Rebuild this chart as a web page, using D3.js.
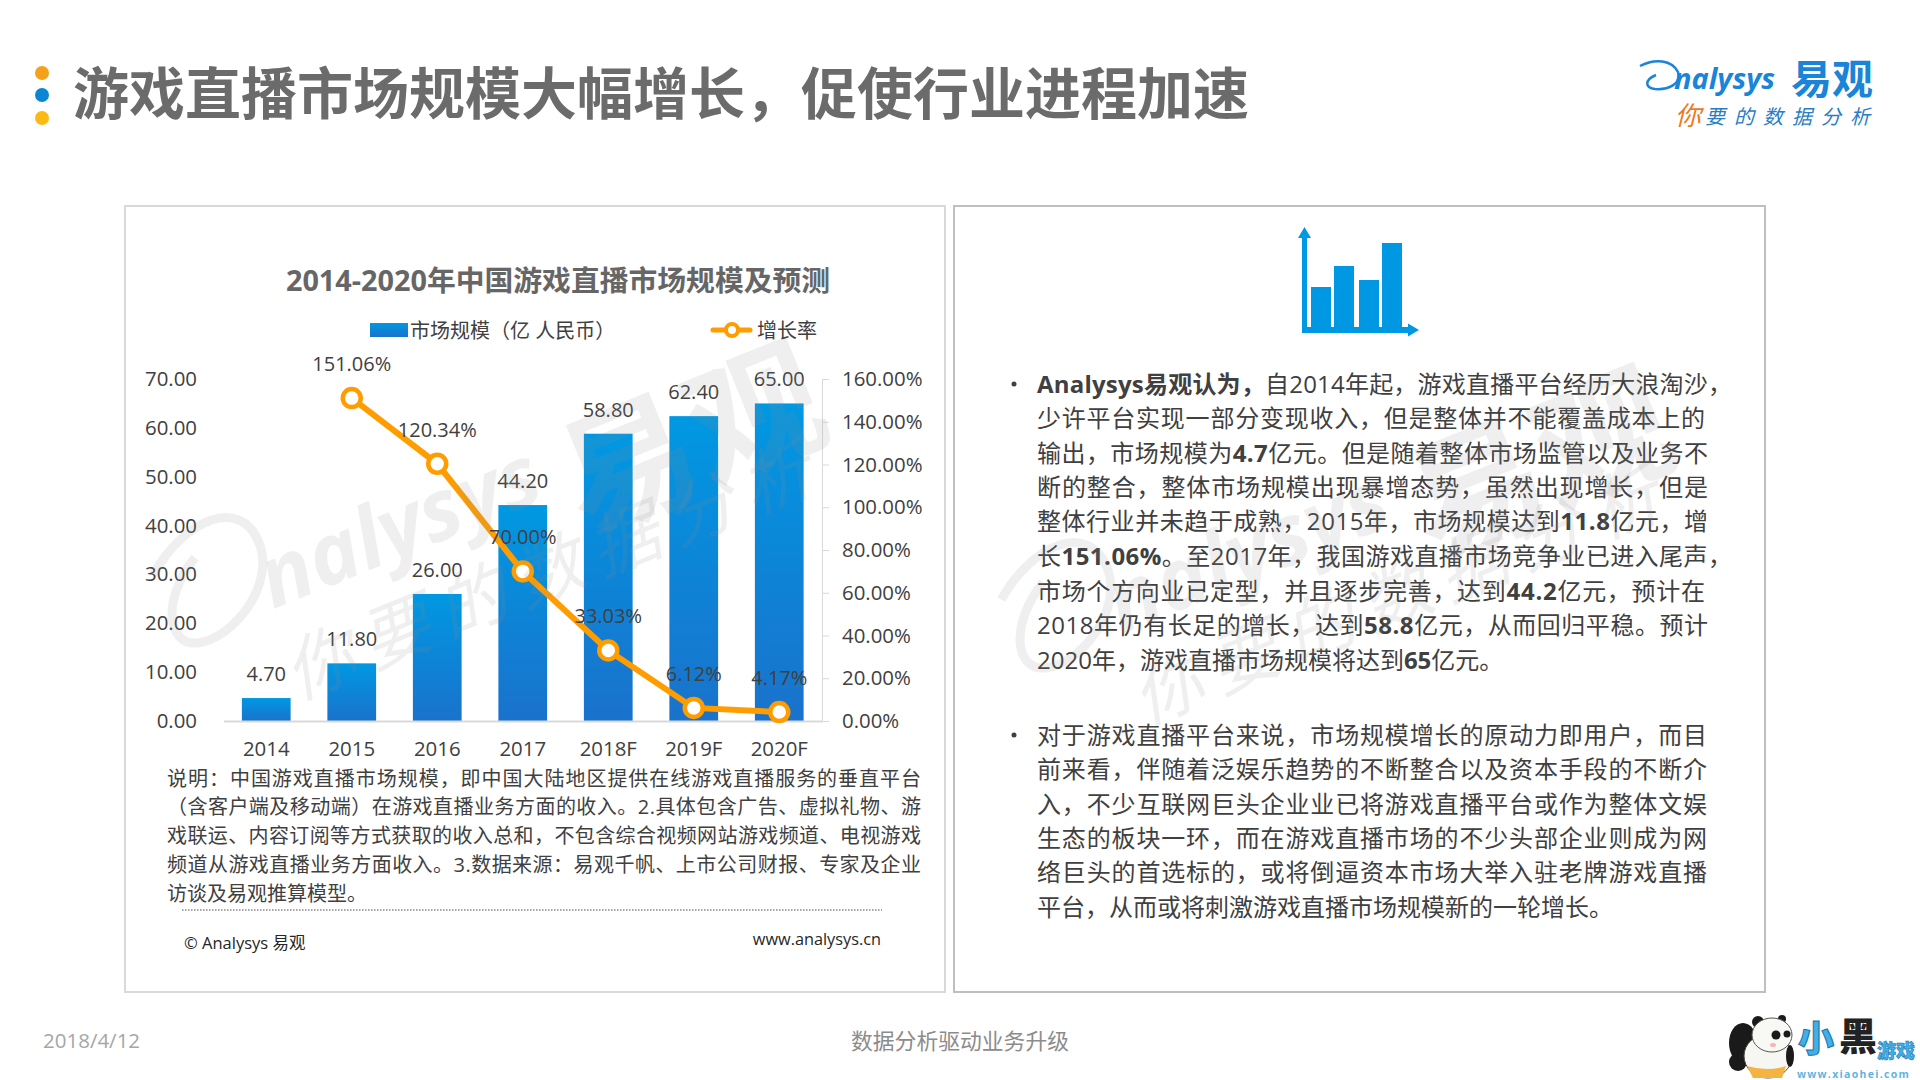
<!DOCTYPE html>
<html>
<head>
<meta charset="utf-8">
<script src="https://cdn.jsdelivr.net/npm/d3@7"></script>
<style>
html, body { margin: 0; padding: 0; background: #fff; }
svg { display: block; }
text { font-family: "Open Sans", "Noto Sans CJK SC", sans-serif; }
</style>
</head>
<body>
<div id="slide"></div>
<script>
var years = ["2014", "2015", "2016", "2017", "2018F", "2019F", "2020F"];
var marketSize = [4.70, 11.80, 26.00, 44.20, 58.80, 62.40, 65.00];
var growthRate = [null, 151.06, 120.34, 70.00, 33.03, 6.12, 4.17];
var leftTicks = [0, 10, 20, 30, 40, 50, 60, 70];
var rightTicks = [0, 20, 40, 60, 80, 100, 120, 140, 160];

var noteLines = [
    "说明：中国游戏直播市场规模，即中国大陆地区提供在线游戏直播服务的垂直平台",
    "（含客户端及移动端）在游戏直播业务方面的收入。2.具体包含广告、虚拟礼物、游",
    "戏联运、内容订阅等方式获取的收入总和，不包含综合视频网站游戏频道、电视游戏",
    "频道从游戏直播业务方面收入。3.数据来源：易观千帆、上市公司财报、专家及企业",
    "访谈及易观推算模型。"
];
// *...* marks the bold runs
var para1 = [
    "*Analysys易观认为，*自2014年起，游戏直播平台经历大浪淘沙，",
    "少许平台实现一部分变现收入，但是整体并不能覆盖成本上的",
    "输出，市场规模为*4.7*亿元。但是随着整体市场监管以及业务不",
    "断的整合，整体市场规模出现暴增态势，虽然出现增长，但是",
    "整体行业并未趋于成熟，2015年，市场规模达到*11.8*亿元，增",
    "长*151.06%*。至2017年，我国游戏直播市场竞争业已进入尾声，",
    "市场个方向业已定型，并且逐步完善，达到*44.2*亿元，预计在",
    "2018年仍有长足的增长，达到*58.8*亿元，从而回归平稳。预计",
    "2020年，游戏直播市场规模将达到*65*亿元。"
];
var para2 = [
    "对于游戏直播平台来说，市场规模增长的原动力即用户，而目",
    "前来看，伴随着泛娱乐趋势的不断整合以及资本手段的不断介",
    "入，不少互联网巨头企业业已将游戏直播平台或作为整体文娱",
    "生态的板块一环，而在游戏直播市场的不少头部企业则成为网",
    "络巨头的首选标的，或将倒逼资本市场大举入驻老牌游戏直播",
    "平台，从而或将刺激游戏直播市场规模新的一轮增长。"
];

var svg = d3.select("#slide").append("svg")
    .attr("width", 1920)
    .attr("height", 1080);

var defs = svg.append("defs");
var grad = defs.append("linearGradient")
    .attr("id", "barFill")
    .attr("x1", 0).attr("y1", 0).attr("x2", 0).attr("y2", 1);
grad.append("stop").attr("offset", "0%").attr("stop-color", "#0098e2");
grad.append("stop").attr("offset", "100%").attr("stop-color", "#1a72cc");

/* title and the three dots */
svg.selectAll("circle.dot")
    .data([[73, "#f5a21b"], [95, "#0b86d2"], [118, "#fdb913"]])
    .enter().append("circle")
    .attr("cx", 42)
    .attr("cy", function (d) { return d[0]; })
    .attr("r", 7)
    .attr("fill", function (d) { return d[1]; });

svg.append("text")
    .attr("x", 73).attr("y", 114)
    .attr("font-size", 56)
    .attr("font-weight", 700)
    .attr("fill", "#6b6b6b")
    .text("游戏直播市场规模大幅增长，促使行业进程加速");

/* panels */
svg.append("rect").attr("x", 125).attr("y", 206).attr("width", 820).attr("height", 786)
    .attr("fill", "#fff").attr("stroke", "#d9d9d9").attr("stroke-width", 2);
svg.append("rect").attr("x", 954).attr("y", 206).attr("width", 811).attr("height", 786)
    .attr("fill", "#fff").attr("stroke", "#bfbfbf").attr("stroke-width", 2);

/* chart */
var x = d3.scaleBand().domain(years).range([223.5, 822]).paddingInner(0.43).paddingOuter(0.215);
var yLeft = d3.scaleLinear().domain([0, 70]).range([721, 379]);
var yRight = d3.scaleLinear().domain([0, 160]).range([721, 379]);
var chart = svg.append("g");

chart.append("text")
    .attr("x", 558).attr("y", 291)
    .attr("text-anchor", "middle")
    .attr("font-size", 28.8)
    .attr("font-weight", 700)
    .attr("fill", "#666")
    .text("2014-2020年中国游戏直播市场规模及预测");

// legend
chart.append("rect").attr("x", 370).attr("y", 323).attr("width", 38).attr("height", 14).attr("fill", "url(#barFill)");
chart.append("text").attr("x", 410).attr("y", 338).attr("font-size", 20).attr("fill", "#404040").text("市场规模（亿 人民币）");
chart.append("line").attr("x1", 713).attr("x2", 750).attr("y1", 330).attr("y2", 330)
    .attr("stroke", "#ff9c00").attr("stroke-width", 5).attr("stroke-linecap", "round");
chart.append("circle").attr("cx", 732).attr("cy", 330).attr("r", 6)
    .attr("fill", "#fff").attr("stroke", "#ff9c00").attr("stroke-width", 4);
chart.append("text").attr("x", 757).attr("y", 338).attr("font-size", 20).attr("fill", "#404040").text("增长率");

// bars
chart.selectAll("rect.bar")
    .data(marketSize)
    .enter().append("rect")
    .attr("class", "bar")
    .attr("x", function (d, i) { return x(years[i]); })
    .attr("y", function (d) { return yLeft(d); })
    .attr("width", x.bandwidth())
    .attr("height", function (d) { return yLeft(0) - yLeft(d); })
    .attr("fill", "url(#barFill)");

// axes
var axisLeft = chart.append("g")
    .attr("transform", "translate(197,0)")
    .call(d3.axisLeft(yLeft).tickValues(leftTicks).tickSize(0).tickPadding(0).tickFormat(d3.format(".2f")));
var axisRight = chart.append("g")
    .attr("transform", "translate(822,0)")
    .call(d3.axisRight(yRight).tickValues(rightTicks).tickSize(7).tickPadding(13).tickFormat(function (d) { return d.toFixed(2) + "%"; }));
var axisBottom = chart.append("g")
    .attr("transform", "translate(0,721)")
    .call(d3.axisBottom(x).tickSize(0).tickPadding(21));
axisLeft.select(".domain").remove();
axisRight.select(".domain").attr("stroke", "#d9d9d9");
axisRight.selectAll(".tick line").attr("stroke", "#d9d9d9");
axisBottom.select(".domain").attr("stroke", "#d9d9d9").attr("stroke-width", 2);
chart.selectAll(".tick text")
    .attr("font-size", 20.400)
    .attr("fill", "#404040");
chart.selectAll("g").attr("font-family", null);

// bar value labels
chart.selectAll("text.barLabel")
    .data(marketSize)
    .enter().append("text")
    .attr("class", "barLabel")
    .attr("x", function (d, i) { return x(years[i]) + x.bandwidth() / 2; })
    .attr("y", function (d) { return yLeft(d) - 17; })
    .attr("text-anchor", "middle")
    .attr("font-size", 20)
    .attr("fill", "#404040")
    .text(function (d) { return d.toFixed(2); });

// growth line
var growthLine = d3.line()
    .defined(function (d) { return d !== null; })
    .x(function (d, i) { return x(years[i]) + x.bandwidth() / 2; })
    .y(function (d) { return yRight(d); });
chart.append("path")
    .datum(growthRate)
    .attr("d", growthLine)
    .attr("fill", "none")
    .attr("stroke", "#ff9c00")
    .attr("stroke-width", 6);

var growthPts = growthRate.map(function (d, i) { return { v: d, year: years[i] }; })
    .filter(function (d) { return d.v !== null; });
chart.selectAll("circle.rate")
    .data(growthPts)
    .enter().append("circle")
    .attr("class", "rate")
    .attr("cx", function (d) { return x(d.year) + x.bandwidth() / 2; })
    .attr("cy", function (d) { return yRight(d.v); })
    .attr("r", 9)
    .attr("fill", "#fff")
    .attr("stroke", "#ff9c00")
    .attr("stroke-width", 4.5);
chart.selectAll("text.rateLabel")
    .data(growthPts)
    .enter().append("text")
    .attr("class", "rateLabel")
    .attr("x", function (d) { return x(d.year) + x.bandwidth() / 2; })
    .attr("y", function (d) { return yRight(d.v) - 27; })
    .attr("text-anchor", "middle")
    .attr("font-size", 20)
    .attr("fill", "#404040")
    .text(function (d) { return d.v.toFixed(2) + "%"; });

/* note under the chart */
svg.selectAll("text.note")
    .data(noteLines)
    .enter().append("text")
    .attr("class", "note")
    .attr("x", 167)
    .attr("y", function (d, i) { return [786, 814, 843, 872, 901][i]; })
    .attr("font-size", 20)
    .attr("fill", "#404040")
    .attr("textLength", function (d, i) { return i < 4 ? 754 : null; })
    .text(function (d) { return d; });

svg.append("line").attr("x1", 182).attr("x2", 882).attr("y1", 910).attr("y2", 910)
    .attr("stroke", "#a6a6a6").attr("stroke-width", 2).attr("stroke-dasharray", "1.500,1.500");
svg.append("text").attr("x", 184).attr("y", 949).attr("font-size", 16.5).attr("fill", "#262626").text("© Analysys 易观");
svg.append("text").attr("x", 881).attr("y", 945).attr("text-anchor", "end").attr("font-size", 16.3).attr("fill", "#262626").text("www.analysys.cn");

/* right panel icon */
var icon = svg.append("g").attr("fill", "#0098e2");
icon.append("rect").attr("x", 1302).attr("y", 238).attr("width", 5).attr("height", 95);
icon.append("path").attr("d", "M1304.5,227L1311,238L1298,238Z");
icon.append("rect").attr("x", 1302).attr("y", 327).attr("width", 106).attr("height", 6);
icon.append("path").attr("d", "M1419,330L1408,323.500L1408,336.500Z");
icon.selectAll("rect.b")
    .data([[1311, 287], [1334, 266], [1359, 280], [1382, 243]])
    .enter().append("rect")
    .attr("x", function (d) { return d[0]; })
    .attr("y", function (d) { return d[1]; })
    .attr("width", 20)
    .attr("height", function (d) { return 327 - d[1]; });

/* right panel text, base size 24 and justified to the read line widths */
function addLines(lines, ys, widths) {
    lines.forEach(function (line, i) {
        var t = svg.append("text")
            .attr("x", 1037).attr("y", ys[i])
            .attr("font-size", 24)
            .attr("fill", "#404040");
        if (widths[i]) t.attr("textLength", widths[i]);
        line.split("*").forEach(function (part, k) {
            if (part === "") return;
            t.append("tspan")
                .attr("font-weight", k % 2 ? 700 : 400)
                .text(part);
        });
    });
}
addLines(para1, [393, 427, 462, 496, 530, 565, 600, 634, 669], [695, 668, 671, 671, 671, 695, 668, 671, 0]);
addLines(para2, [744, 778, 813, 847, 881, 916], [670, 670, 670, 670, 670, 0]);
svg.selectAll("circle.bullet")
    .data([384, 735])
    .enter().append("circle")
    .attr("cx", 1014)
    .attr("cy", function (d) { return d; })
    .attr("r", 2.5)
    .attr("fill", "#404040");

/* watermarks, drawn over everything in the panels */
function watermark(tx, ty) {
    var g = svg.append("g")
        .attr("transform", "translate(" + tx + "," + ty + ") rotate(-22)")
        .attr("fill", "#8c8c8c")
        .attr("fill-opacity", 0.14);
    g.append("path")
        .attr("d", "M-70,-45C-20,-85 40,-85 40,-35C40,10 -20,45 -55,35C-85,25 -70,-20 -25,-45")
        .attr("fill", "none")
        .attr("stroke", "#8c8c8c")
        .attr("stroke-opacity", 0.14)
        .attr("stroke-width", 9);
    g.append("text").attr("x", 28).attr("y", 32).attr("font-size", 85).attr("font-style", "italic").attr("font-weight", 700).text("nalysys");
    g.append("text").attr("x", 345).attr("y", 80).attr("font-size", 135).attr("font-weight", 700).text("易观");
    g.append("text").attr("x", 16).attr("y", 125).attr("font-size", 70).attr("font-style", "italic").attr("letter-spacing", 12).text("你要的数据分析");
}
watermark(235, 590);
watermark(1083, 615);

/* logo top right */
var logo = svg.append("g");
logo.append("path")
    .attr("d", "M1640,66C1655,58 1672,60 1678,72C1682,84 1668,90 1655,89C1645,88 1644,80 1656,75")
    .attr("fill", "none").attr("stroke", "#1a84d8").attr("stroke-width", 2.5);
logo.append("text").attr("x", 1674).attr("y", 89).attr("font-size", 29).attr("font-style", "italic").attr("font-weight", 700)
    .attr("fill", "#1a84d8").text("nalysys");
logo.append("text").attr("x", 1791).attr("y", 94).attr("font-size", 41).attr("font-weight", 700)
    .attr("fill", "#1a84d8").text("易观");
logo.append("text").attr("x", 1675).attr("y", 125).attr("font-size", 26).attr("font-style", "italic")
    .attr("fill", "#ee7a1c").text("你");
logo.append("text").attr("x", 1705).attr("y", 124).attr("font-size", 20).attr("font-style", "italic").attr("letter-spacing", 9)
    .attr("fill", "#2a7cc4").text("要的数据分析");

/* footer */
svg.append("text").attr("x", 43).attr("y", 1048).attr("font-size", 20.5).attr("fill", "#a6a6a6").text("2018/4/12");
svg.append("text").attr("x", 960).attr("y", 1049).attr("text-anchor", "middle").attr("font-size", 21.800).attr("fill", "#8c8c8c").text("数据分析驱动业务升级");

/* panda badge bottom right */
var badge = svg.append("g");
badge.append("ellipse").attr("cx", 1743).attr("cy", 1043).attr("rx", 14).attr("ry", 20).attr("fill", "#1a1a1a");
badge.append("ellipse").attr("cx", 1738).attr("cy", 1062).attr("rx", 9).attr("ry", 9).attr("fill", "#1a1a1a");
badge.append("ellipse").attr("cx", 1768).attr("cy", 1056).attr("rx", 24).attr("ry", 22).attr("fill", "#f6f6f2").attr("stroke", "#444");
badge.append("path").attr("d", "M1747,1066Q1768,1072 1786,1066L1782,1078L1753,1078Z").attr("fill", "#f5b342");
badge.append("ellipse").attr("cx", 1790).attr("cy", 1056).attr("rx", 4).attr("ry", 11).attr("fill", "#1a1a1a");
badge.append("circle").attr("cx", 1758).attr("cy", 1022).attr("r", 6).attr("fill", "#1a1a1a");
badge.append("circle").attr("cx", 1782).attr("cy", 1019).attr("r", 4).attr("fill", "#1a1a1a");
badge.append("ellipse").attr("cx", 1772).attr("cy", 1035).attr("rx", 20).attr("ry", 17).attr("fill", "#f8f8f4").attr("stroke", "#555");
badge.append("circle").attr("cx", 1776).attr("cy", 1035).attr("r", 4.5).attr("fill", "#1a1a1a");
badge.append("circle").attr("cx", 1787).attr("cy", 1034).attr("r", 3.5).attr("fill", "#1a1a1a");
badge.append("ellipse").attr("cx", 1773).attr("cy", 1045).attr("rx", 3).attr("ry", 2).attr("fill", "#f5b5b5");
badge.append("text").attr("x", 1798).attr("y", 1052).attr("font-size", 36).attr("font-weight", 900).attr("fill", "#3fb0e8").attr("stroke", "#1b6fa8").text("小");
badge.append("text").attr("x", 1839).attr("y", 1050).attr("font-size", 38).attr("font-weight", 900).attr("fill", "#222").text("黑");
badge.append("text").attr("x", 1877).attr("y", 1058).attr("font-size", 19).attr("font-weight", 900).attr("fill", "#3fb0e8").attr("stroke", "#1b6fa8").attr("stroke-width", 0.5).text("游戏");
badge.append("text").attr("x", 1797).attr("y", 1078).attr("font-size", 10.5).attr("font-weight", 700).attr("letter-spacing", 1.3).attr("fill", "#5fb5e0").text("www.xiaohei.com");
</script>
</body>
</html>
